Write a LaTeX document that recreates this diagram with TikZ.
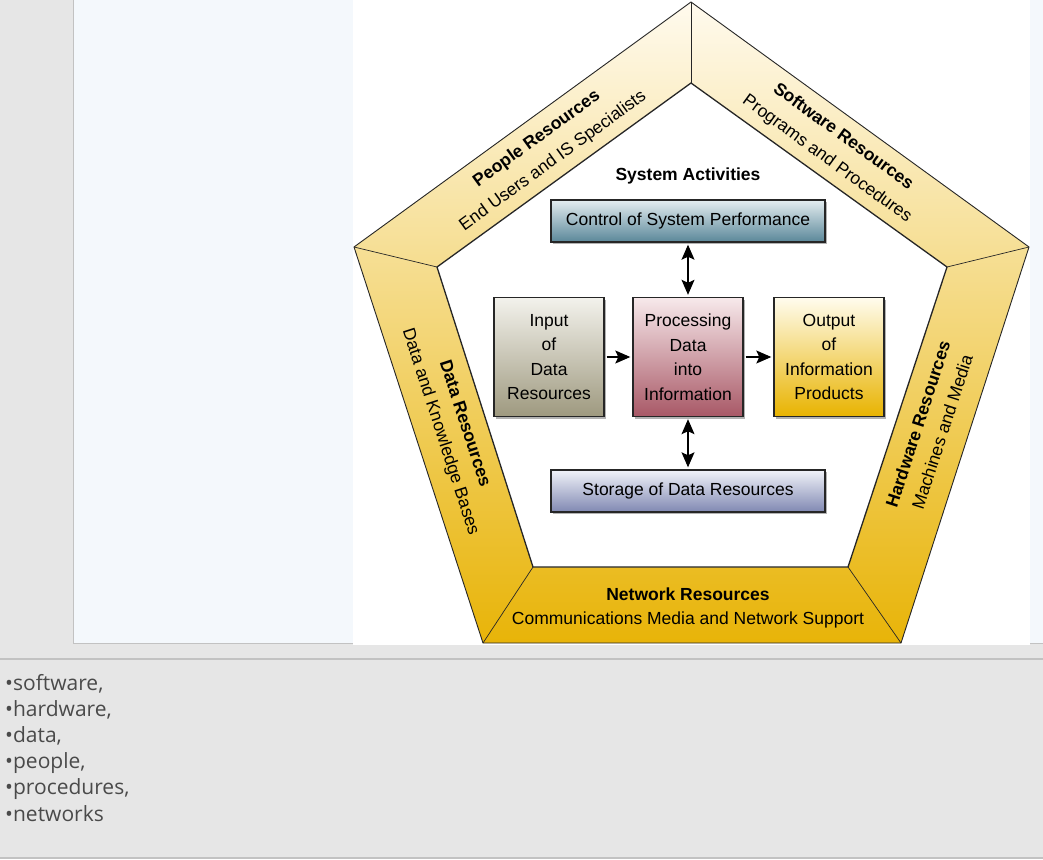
\documentclass[tikz,border=0pt]{standalone}
\usepackage{fontspec}
\setmainfont{Liberation Sans}
\newfontfamily\listfont{Open Sans}
\usepackage{tikz}
\usetikzlibrary{arrows.meta,shadows}
\usepackage{xcolor}
\definecolor{pagegray}{HTML}{E6E6E6}
\definecolor{panelblue}{HTML}{F4F8FC}
\definecolor{rulegray}{HTML}{C2C2C2}
\definecolor{ringtop}{HTML}{FFFAEE}
\definecolor{ringmid}{HTML}{F3D170}
\definecolor{ringbot}{HTML}{E8B408}
\definecolor{listgray}{HTML}{4A4A4A}
\definecolor{controltop}{HTML}{E4EDF0}
\definecolor{controlbot}{HTML}{5A8799}
\definecolor{inputtop}{HTML}{F3F2EC}
\definecolor{inputbot}{HTML}{9E997F}
\definecolor{processtop}{HTML}{F7E9EB}
\definecolor{processbot}{HTML}{A85866}
\definecolor{outputtop}{HTML}{FFFCEE}
\definecolor{outputbot}{HTML}{E8B300}
\definecolor{storagetop}{HTML}{F1F3F9}
\definecolor{storagebot}{HTML}{8088B2}
\newcommand\bodyfont{\fontsize{17.5}{24.5}\selectfont}

\tikzset{
  actbox/.style={draw=black!85,line width=1.4pt,minimum width=110pt,
    minimum height=119pt,align=center,font=\bodyfont,inner sep=2pt,
    drop shadow={shadow xshift=2pt,shadow yshift=-2pt,fill=black!60}},
  widebox/.style={actbox,minimum width=274pt,minimum height=42pt},
  flow/.style={-{Stealth[length=15pt,width=13pt,inset=3pt]},line width=1.1pt,
    shorten >=2pt,shorten <=2pt},
  twoway/.style={{Stealth[length=15pt,width=13pt,inset=3pt]}-{Stealth[length=15pt,width=13pt,inset=3pt]},
    line width=1.1pt,shorten >=2pt,shorten <=2pt},
  facelabel/.style={align=center,font=\bodyfont,inner sep=0pt},
  ringedge/.style={draw=black!85,line width=0.9pt,line join=round},
  listitem/.style={anchor=base west,inner sep=0pt,text=listgray,
    font=\listfont\fontsize{21}{26}\selectfont},
}

\begin{document}
\begin{tikzpicture}[x=1pt,y=-1pt]
  \useasboundingbox (0,0) rectangle (1043,859);
  % slide background
  \fill[pagegray] (0,0) rectangle (1043,859);
  \fill[panelblue] (74,0) rectangle (1043,643);
  \draw[rulegray,line width=1pt] (73.5,0) -- (73.5,643.5) -- (1043,643.5);
  \fill[white] (353,0) rectangle (1030,645);
  \draw[rulegray,line width=1.2pt] (0,659) -- (1043,659);
  \draw[rulegray,line width=1.2pt] (0,858) -- (1043,858);

  % pentagon ring
  \coordinate (oT) at (691,2);
  \coordinate (oR) at (1029,247);
  \coordinate (oBR) at (901,643);
  \coordinate (oBL) at (483,643);
  \coordinate (oL) at (354,247);
  \coordinate (iT) at (691,83);
  \coordinate (iR) at (947,267);
  \coordinate (iBR) at (848,567);
  \coordinate (iBL) at (533,567);
  \coordinate (iL) at (437,267);
  \shade[top color=ringtop,middle color=ringmid,bottom color=ringbot]
    (oT) -- (oR) -- (oBR) -- (oBL) -- (oL) -- cycle;
  \fill[white] (iT) -- (iR) -- (iBR) -- (iBL) -- (iL) -- cycle;
  \draw[ringedge] (oT) -- (oR) -- (oBR) -- (oBL) -- (oL) -- cycle;
  \draw[ringedge,line width=1.3pt] (iT) -- (iR) -- (iBR) -- (iBL) -- (iL) -- cycle;
  \foreach \a/\b in {oT/iT,oR/iR,oBR/iBR,oBL/iBL,oL/iL}
    \draw[ringedge,line width=0.7pt] (\a) -- (\b);

  % resource labels
  \node[facelabel,rotate=36] (people) at (545,150)
    {\textbf{People Resources}\\[3pt]End Users and IS Specialists};
  \node[facelabel,rotate=-36] (software) at (835,148)
    {\textbf{Software Resources}\\[3pt]Programs and Procedures};
  \node[facelabel,rotate=72] (hardware) at (930,428)
    {\textbf{Hardware Resources}\\[1pt]Machines and Media};
  \node[facelabel,rotate=-72] (data) at (452,428)
    {\textbf{Data Resources}\\[1pt]Data and Knowledge Bases};
  \node[facelabel] (network) at (688,608)
    {\textbf{Network Resources}\\Communications Media and Network Support};

  % system activities
  \node[font=\bodyfont\bfseries] (activities) at (688,176) {System Activities};
  \node[widebox,top color=controltop,bottom color=controlbot]
    (control) at (688,221) {Control of System Performance};
  \node[actbox,top color=inputtop,bottom color=inputbot]
    (input) at (549,357) {Input\\of\\Data\\Resources};
  \node[actbox,top color=processtop,bottom color=processbot]
    (process) at (688,357) {Processing\\Data\\into\\Information};
  \node[actbox,top color=outputtop,bottom color=outputbot]
    (output) at (829,357) {Output\\of\\Information\\Products};
  \node[widebox,top color=storagetop,bottom color=storagebot]
    (storage) at (688,491) {Storage of Data Resources};

  \draw[flow] (input) -- (process);
  \draw[flow] (process) -- (output);
  \draw[twoway] (control) -- (process);
  \draw[twoway] (process) -- (storage);

  % bullet list under the slide
  \foreach \word [count=\i from 0] in {{software,},{hardware,},{data,},
      {people,},{procedures,},{networks}}
    \node[listitem] (item\i) at (5,690+26.2*\i) {•\word};
\end{tikzpicture}
\end{document}
